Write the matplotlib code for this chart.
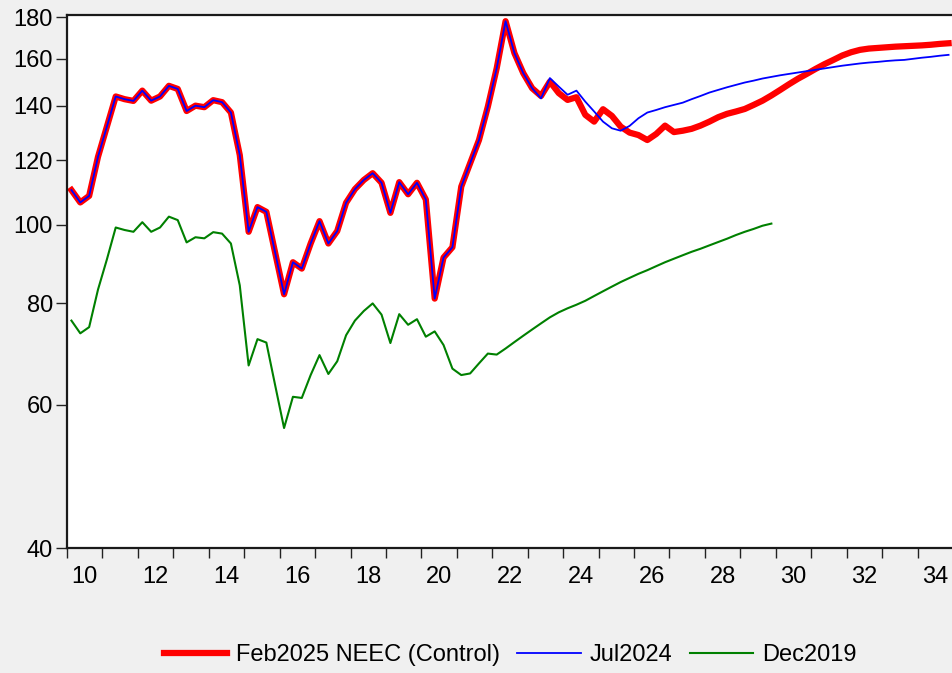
import numpy as np
import matplotlib
matplotlib.use("Agg")
import matplotlib.pyplot as plt
from matplotlib.ticker import FixedLocator, NullLocator, NullFormatter, FixedFormatter

plt.rcParams['font.family'] = ['Liberation Sans', 'DejaVu Sans']

# Quarterly index levels, 2010Q1 onward
history = [
    110.3, 106.5, 108.5, 121.2, 132.0, 143.8, 142.7, 142.0, 146.2, 142.1,
    143.8, 148.2, 146.9, 138.0, 140.1, 139.5, 142.3, 141.5, 137.4, 121.8,
    98.0, 105.1, 103.7, 92.3, 82.1, 89.9, 88.3, 94.8, 101.0, 94.8,
    98.2, 106.4, 110.6, 113.5, 115.7, 112.6, 103.4, 112.8, 109.0, 112.6,
    107.4, 81.1, 91.1, 93.8, 111.4, 119.0, 127.1, 139.7, 155.8, 178.0,
    162.6, 153.6, 147.2,
]

# Projections from 2023Q2 to 2034Q4
feb2025_proj = [
    144.0, 150.0, 145.2, 142.4, 143.5, 136.5, 133.9, 138.7, 136.1, 132.0,
    129.8, 128.9, 127.1, 129.3, 132.4, 130.0, 130.5, 131.2, 132.4, 133.9,
    135.6, 136.9, 137.8, 138.8, 140.4, 142.1, 144.2, 146.5, 148.9, 151.2,
    153.3, 155.5, 157.6, 159.5, 161.5, 163.0, 164.1, 164.7, 165.0, 165.3,
    165.6, 165.8, 166.0, 166.2, 166.5, 166.9, 167.2,
]
jul2024_proj = [
    143.0, 151.5, 147.9, 144.5, 146.2, 141.7, 137.8, 133.9, 131.4, 130.5,
    132.3, 135.2, 137.4, 138.4, 139.5, 140.4, 141.3, 142.7, 144.0, 145.4,
    146.5, 147.6, 148.6, 149.6, 150.4, 151.3, 152.0, 152.7, 153.3, 153.9,
    154.5, 155.1, 155.7, 156.3, 156.9, 157.4, 157.9, 158.3, 158.6, 159.0,
    159.3, 159.5, 160.0, 160.5, 160.9, 161.4, 161.8,
]

# Older vintage, 2010Q1 to 2029Q4
dec2019 = [
    76.2, 73.5, 74.8, 83.2, 90.6, 99.2, 98.5, 98.0, 100.7, 98.0,
    99.2, 102.3, 101.3, 95.1, 96.5, 96.2, 97.9, 97.5, 94.8, 84.2,
    67.1, 72.3, 71.6, 63.4, 56.2, 61.4, 61.2, 65.3, 69.1, 65.5,
    67.9, 73.1, 76.2, 78.3, 80.0, 77.5, 71.5, 77.6, 75.3, 76.5,
    72.8, 73.9, 71.1, 66.5, 65.3, 65.6, 67.5, 69.4, 69.2, 70.4,
    71.7, 73.0, 74.3, 75.6, 76.9, 78.0, 78.9, 79.7, 80.6, 81.7,
    82.8, 83.9, 85.0, 86.0, 87.0, 87.9, 88.9, 89.9, 90.8, 91.7,
    92.6, 93.4, 94.3, 95.2, 96.1, 97.1, 98.0, 98.8, 99.7, 100.3,
]

y_ticks = [40, 60, 80, 100, 120, 140, 160, 180]
year_labels = ['10', '12', '14', '16', '18', '20', '22', '24', '26', '28', '30', '32', '34']

feb2025 = np.array(history + feb2025_proj)
jul2024 = np.array(history + jul2024_proj)
dec = np.array(dec2019)

def quarter_x(n):
    # plot each quarter at the middle of its period
    return 2010 + (np.arange(n) + 0.5) / 4

fig = plt.figure(figsize=(9.53, 6.73), dpi=100, facecolor='#F0F0F0')
ax = fig.add_axes([0.0703, 0.1857, 0.9297, 0.7916])
ax.set_facecolor('white')

ax.plot(quarter_x(len(feb2025)), feb2025, color='#FF0000', lw=4.5,
        label='Feb2025 NEEC (Control)', solid_joinstyle='round')
ax.plot(quarter_x(len(jul2024)), jul2024, color='#0000FF', lw=1.3, label='Jul2024')
ax.plot(quarter_x(len(dec)), dec, color='#008000', lw=1.5, label='Dec2019')

ax.set_yscale('log')
ax.set_ylim(40, 181)
ax.yaxis.set_major_locator(FixedLocator(y_ticks))
ax.yaxis.set_major_formatter(FixedFormatter([str(v) for v in y_ticks]))
ax.yaxis.set_minor_locator(NullLocator())
ax.yaxis.set_minor_formatter(NullFormatter())

ax.set_xlim(2010, 2035)
ax.xaxis.set_major_locator(FixedLocator(np.arange(2010, 2036)))
ax.xaxis.set_major_formatter(NullFormatter())
label_pos = [2000 + int(s) + 0.5 for s in year_labels]
ax.xaxis.set_minor_locator(FixedLocator(label_pos))
ax.xaxis.set_minor_formatter(FixedFormatter(year_labels))

ax.tick_params(axis='x', which='major', length=7.5, width=1.0, color='#222222', direction='out')
ax.tick_params(axis='x', which='minor', length=0, pad=13, labelsize=17)
ax.tick_params(axis='y', which='major', length=8, width=1.0, color='#222222',
               direction='out', labelsize=17, pad=2)

for side in ['left', 'bottom', 'top']:
    ax.spines[side].set_linewidth(1.6)
    ax.spines[side].set_color('#1a1a1a')
ax.spines['right'].set_visible(False)

fig.legend(loc='center', bbox_to_anchor=(0.535, 0.027), ncol=3, frameon=False,
           fontsize=17, handlelength=2.7, handletextpad=0.35, columnspacing=0.75)

fig.savefig('out.png', dpi=100, facecolor=fig.get_facecolor())
